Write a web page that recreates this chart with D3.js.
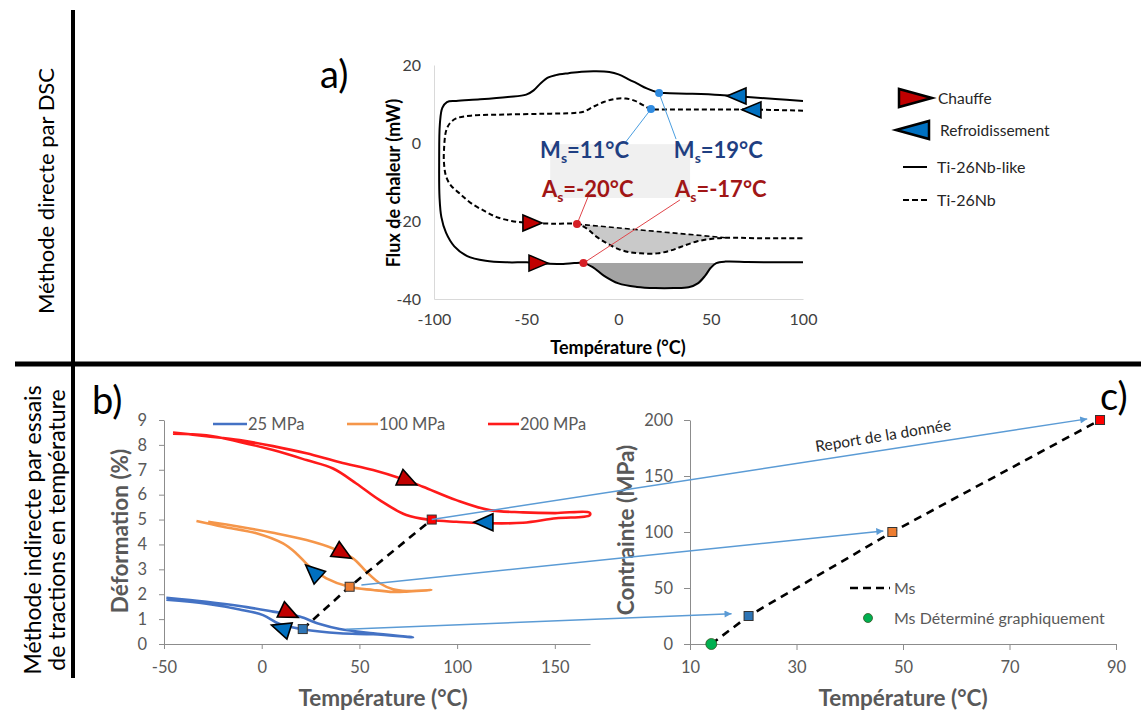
<!DOCTYPE html>
<html><head><meta charset="utf-8">
<script src="https://cdn.jsdelivr.net/npm/d3@7"></script>
<style>body{margin:0;background:#fff}svg{display:block}text{font-family:Lato,'Open Sans',sans-serif}</style>
</head><body><svg id="c" width="1141" height="713"></svg>
<script>
// ---------- DATA ----------
// Panel a) DSC curves [temperature °C, heat flow mW]
const dscSolidCool = [[100,10.8],[85,11.3],[70,11.8],[55,12.3],[40,12.6],[25,12.8],[22,12.9],[15.3,14],[10,15.3],[6,16.2],[0,17.6],[-5,18.2],[-12,18.4],[-20,18.3],[-27,17.9],[-34,17.4],[-38,16.8],[-42,15.4],[-46,13.5],[-50,12.4],[-60,11.8],[-75,11.2],[-88,10.8],[-93,10.5],[-95.5,9],[-96.8,5],[-97.2,-5],[-97,-14]];
const dscSolidHeat = [[-97,-14],[-96,-19],[-93.5,-23],[-89,-26.5],[-82,-29],[-72,-30.2],[-60,-30.6],[-50,-30.6],[-40,-30.9],[-30,-31],[-24,-30.8]];
const dscSolidDip = [[-19,-30.8],[-14,-31.8],[-8,-34],[0,-36],[10,-36.9],[20,-37.2],[30,-37.2],[38,-37],[43,-36],[47,-34],[50,-32],[53,-30.8]];
const dscSolidEnd = [[58,-30.4],[70,-30.5],[85,-30.6],[100,-30.6]];
const dscDashCool = [[100,8.3],[80,8.5],[60,8.6],[40,8.6],[25,8.6],[17.6,8.7],[13,9.8],[9,10.8],[4,11.4],[-2,11.3],[-8,10.5],[-14,9.2],[-19,8],[-24,7.7],[-40,7.5],[-62,7.3],[-80,7],[-88,6.3],[-91.5,5],[-93.5,3],[-94.6,-2]];
const dscDashHeat = [[-94.6,-2],[-94.6,-5],[-93.5,-8.5],[-91,-10.8],[-86,-13],[-80,-15.4],[-72,-17.6],[-66,-19],[-58,-20],[-50,-20.4],[-35,-20.7]];
const dscDashDip = [[-22.5,-20.8],[-17,-22],[-12,-24],[-6,-25.8],[0,-27.2],[6,-28],[12,-28.3],[21,-28.3],[28,-27.6],[34,-26.6],[42,-25.3],[50,-24.6],[58,-24.3]];
const dscDashEnd = [[75,-24.4],[100,-24.4]];
const dscTicksX = [-100,-50,0,50,100];
const dscTicksY = [20,0,-20,-40];
const msPointsA = [[17.6,8.7],[22,12.8]];          // Ms onset points (dashed, solid)
const asPointsA = [[-22.5,-20.8],[-19,-30.8]];     // As onset points (dashed, solid)
const msLabels = ["11°C","19°C"];
const asLabels = ["-20°C","-17°C"];
const coolArrowsA = [[58.8,12.05],[66.9,8.5]];
const heatArrowsA = [[-41.5,-20.5],[-38.2,-30.8]];

// Panel b) strain vs temperature [°C, %]
const seriesB = ["25 MPa","100 MPa","200 MPa"];
const strain25 = [[-48.8,1.86],[-28.3,1.7],[-11.3,1.53],[5.8,1.3],[19.4,1.1],[29.7,0.8],[39.9,0.6],[57,0.43],[77.4,0.27],[57,0.39],[39.9,0.43],[21.1,0.59],[9.2,0.8],[0.7,1.16],[-11.3,1.39],[-28.3,1.62],[-48.8,1.78]];
const strain100 = [[-27.4,4.91],[-11.3,4.71],[5.8,4.47],[22.9,4.18],[36.5,3.84],[46.7,3.44],[53.6,2.9],[60.4,2.44],[67.2,2.2],[74,2.13],[86.8,2.17],[74,2.1],[67.2,2.09],[57,2.17],[44.7,2.3],[33.1,2.64],[24.6,3.1],[17.7,3.64],[10.9,4.04],[-2.7,4.45],[-19.8,4.71],[-33.4,4.94]];
const strain200 = [[-45.4,8.5],[-28.3,8.35],[-11.3,8.19],[5.8,7.95],[22.9,7.66],[40,7.3],[57,6.99],[72,6.63],[82.5,6.32],[99.6,5.78],[116.6,5.38],[133.7,5.29],[150,5.26],[167.8,5.28],[167.8,5.17],[150.7,5.05],[133.7,4.87],[116.6,4.85],[99.6,4.91],[86.8,4.98],[74,5.18],[60.4,5.78],[48.4,6.45],[36.5,7.05],[22.9,7.39],[5.8,7.79],[-11.3,8.12],[-28.3,8.39],[-45.4,8.45]];
const heatArrowsB = [[79.4,6.39],[45.9,3.44],[18.6,1.07]];
const coolArrowsB = [[108.6,4.89],[22.5,3.17],[5,0.76]];
const msTempB = [21,45,87];
const msStrainB = [0.6,2.3,5.0];
const arrowStartB = [[43.3,0.59],[51,2.37],[87,5.0]];

// Panel c) stress vs Ms temperature
const stressC = [25,100,200];
const msTempC = [21,48,87];
const msGraphic = [14,0];
const arrowEndC = [[17.8,27],[46.3,101],[84.6,201]];

// ---------- DRAWING ----------
const svg = d3.select('#c');
const colB = ['#4472c4','#f5964a','#ff1a1a'];
const sqFill = ['#2e75b6','#ed7d31','#ff0000'];
const txtGray = '#595959', axGray = '#8c8c8c';

svg.append('line').attr('x1',73).attr('y1',10).attr('x2',73).attr('y2',678).attr('stroke','#000').attr('stroke-width',4);
svg.append('line').attr('x1',15).attr('y1',364).attr('x2',1141).attr('y2',364).attr('stroke','#000').attr('stroke-width',5);

function vtext(x,y,str,size,weight,fill){
  return svg.append('text').attr('transform',`translate(${x},${y}) rotate(-90)`).attr('text-anchor','middle')
    .attr('dominant-baseline','central').attr('font-size',size).attr('font-weight',weight).attr('fill',fill).text(str);
}
vtext(45,191,'Méthode directe par DSC',22,400,'#000');
vtext(32,530,'Méthode indirecte par essais',23,400,'#000');
vtext(56,530,'de tractions en température',23,400,'#000');

function tri(g,x,y,dir,rot,fill,len,half,sw){
  const p = dir>0 ? `M0,0L${-len},${-half}L${-len},${half}Z` : `M0,0L${len},${-half}L${len},${half}Z`;
  g.append('path').attr('d',p).attr('transform',`translate(${x},${y}) rotate(${rot})`)
    .attr('fill',fill).attr('stroke','#000').attr('stroke-width',sw||1.6).attr('stroke-linejoin','miter');
}
const RED='#c00000', BLUE='#0070c0';

// ---- Panel a ----
const xa = d3.scaleLinear().domain([-100,100]).range([434,803]);
const ya = d3.scaleLinear().domain([-40,20]).range([299,65]);
const ga = svg.append('g');
ga.append('text').attr('x',320).attr('y',88).attr('font-size',38).attr('fill','#000').text('a)');
const axA1 = ga.append('g').attr('transform','translate(0,299)').call(d3.axisBottom(xa).tickValues(dscTicksX).tickSize(0).tickPadding(15).tickFormat(d=>String(d)));
const axA2 = ga.append('g').attr('transform','translate(434,0)').call(d3.axisLeft(ya).tickValues(dscTicksY).tickSize(0).tickPadding(13).tickFormat(d=>String(d)));
[axA1,axA2].forEach(a=>{a.select('.domain').attr('stroke','#d9d9d9');a.selectAll('text').attr('font-size',16).attr('fill','#404040').attr('font-family','Lato');});
const lac = d3.line().x(d=>xa(d[0])).y(d=>ya(d[1])).curve(d3.curveCatmullRom.alpha(0.5));
// shaded peaks
ga.append('path').attr('d',lac(dscSolidDip)+'Z').attr('fill','#a3a3a3');
ga.append('path').attr('d',lac(dscDashDip)+'Z').attr('fill','#c9c9c9');
// gray label box
ga.append('rect').attr('x',xa(-37)).attr('y',ya(-0.3)).attr('width',xa(38.8)-xa(-37)).attr('height',ya(-14.1)-ya(-0.3)).attr('fill','#f0f0f0');
const solidAll = dscSolidCool.concat(dscSolidHeat.slice(1),dscSolidDip,dscSolidEnd);
const dashAll = dscDashCool.concat(dscDashHeat.slice(1),dscDashDip,dscDashEnd);
ga.append('path').attr('d',lac(solidAll)).attr('fill','none').attr('stroke','#000').attr('stroke-width',2);
ga.append('path').attr('d',lac(dashAll)).attr('fill','none').attr('stroke','#000').attr('stroke-width',2).attr('stroke-dasharray','5,3');
// baseline across dashed peak
const dd = [dscDashDip[0],dscDashDip[dscDashDip.length-1]];
ga.append('line').attr('x1',xa(dd[0][0])).attr('y1',ya(dd[0][1])).attr('x2',xa(dd[1][0])).attr('y2',ya(dd[1][1])).attr('stroke','#000').attr('stroke-width',1.6).attr('stroke-dasharray','5,3');
// leader lines + labels
const msText = [[-42.5,-3.85],[30,-3.85]], asText=[[-41.5,-13.8],[30.6,-13.8]];
const msLead = [[3.5,0],[31.2,1]], asLead=[[-16.5,-13.8],[33.3,-14.6]];
msPointsA.forEach((p,i)=>{
  ga.append('line').attr('x1',xa(p[0])).attr('y1',ya(p[1])).attr('x2',xa(msLead[i][0])).attr('y2',ya(msLead[i][1])).attr('stroke','#4a9ee0').attr('stroke-width',1);
  ga.append('circle').attr('cx',xa(p[0])).attr('cy',ya(p[1])).attr('r',4).attr('fill','#2f8be0');
});
asPointsA.forEach((p,i)=>{
  ga.append('line').attr('x1',xa(p[0])).attr('y1',ya(p[1])).attr('x2',xa(asLead[i][0])).attr('y2',ya(asLead[i][1])).attr('stroke','#e0454a').attr('stroke-width',1);
  ga.append('circle').attr('cx',xa(p[0])).attr('cy',ya(p[1])).attr('r',4).attr('fill','#d61f26');
});
function subLabel(x,y,main,val,fill){
  const t = ga.append('text').attr('x',x).attr('y',y).attr('font-size',22).attr('font-weight',700).attr('fill',fill);
  t.append('tspan').text(main);
  t.append('tspan').attr('font-size',14).attr('dy',5).text('s');
  t.append('tspan').attr('dy',-5).text('='+val);
}
msText.forEach((p,i)=>subLabel(xa(p[0]),ya(p[1]),'M',msLabels[i],'#1f3f82'));
asText.forEach((p,i)=>subLabel(xa(p[0]),ya(p[1]),'A',asLabels[i],'#a11616'));
coolArrowsA.forEach(p=>tri(ga,xa(p[0]),ya(p[1]),-1,0,BLUE,19,8));
heatArrowsA.forEach(p=>tri(ga,xa(p[0]),ya(p[1]),1,0,RED,19,8));
ga.append('text').attr('x',618).attr('y',354).attr('text-anchor','middle').attr('font-size',18).attr('font-weight',700).attr('fill','#000').text('Température (°C)');
ga.append('text').attr('transform','translate(393,183) rotate(-90)').attr('text-anchor','middle').attr('dominant-baseline','central').attr('font-size',18).attr('font-weight',700).attr('fill','#000').text('Flux de chaleur (mW)');
// legend a
tri(ga,932,98,1,0,RED,33,9,2.5);
tri(ga,896,130,-1,0,BLUE,33,9,2.5);
ga.append('text').attr('x',938).attr('y',104).attr('font-size',15.5).attr('fill','#262626').text('Chauffe');
ga.append('text').attr('x',940).attr('y',136).attr('font-size',15.5).attr('fill','#262626').text('Refroidissement');
ga.append('line').attr('x1',903).attr('x2',927).attr('y1',167).attr('y2',167).attr('stroke','#000').attr('stroke-width',2);
ga.append('line').attr('x1',903).attr('x2',927).attr('y1',200).attr('y2',200).attr('stroke','#000').attr('stroke-width',2).attr('stroke-dasharray','6,3');
ga.append('text').attr('x',937).attr('y',173).attr('font-size',16).attr('fill','#262626').text('Ti-26Nb-like');
ga.append('text').attr('x',937).attr('y',206).attr('font-size',16).attr('fill','#262626').text('Ti-26Nb');

// ---- Panel b ----
const xb = d3.scaleLinear().domain([-50,168]).range([164,590]);
const yb = d3.scaleLinear().domain([0,9]).range([644,420]);
const gb = svg.append('g');
gb.append('text').attr('x',92).attr('y',414).attr('font-size',38).attr('fill','#000').text('b)');
const axB1 = gb.append('g').attr('transform','translate(0,644)').call(d3.axisBottom(xb).tickValues([-50,0,50,100,150]).tickSize(5).tickSizeOuter(0).tickPadding(12).tickFormat(d=>String(d)));
const axB2 = gb.append('g').attr('transform','translate(164,0)').call(d3.axisLeft(yb).tickValues(d3.range(0,10)).tickSize(5).tickSizeOuter(0).tickPadding(12));
[axB1,axB2].forEach(a=>{a.select('.domain').attr('stroke',axGray);a.selectAll('line').attr('stroke',axGray);a.selectAll('text').attr('font-size',16.5).attr('fill',txtGray).attr('font-family','Lato');});
const lb = d3.line().x(d=>xb(d[0])).y(d=>yb(d[1])).curve(d3.curveCatmullRom.alpha(0.5));
[strain25,strain100,strain200].forEach((s,i)=>gb.append('path').attr('d',lb(s)).attr('fill','none').attr('stroke',colB[i]).attr('stroke-width',2.6));
// legend b
const legX = [[213,247],[347,378],[488,519]];
seriesB.forEach((s,i)=>{
  gb.append('line').attr('x1',legX[i][0]).attr('x2',legX[i][1]).attr('y1',424).attr('y2',424).attr('stroke',colB[i]).attr('stroke-width',2.6);
  gb.append('text').attr('x',legX[i][1]+1).attr('y',430).attr('font-size',16.5).attr('fill',txtGray).text(s);
});
// Ms dashed line in b
gb.append('path').attr('d',d3.line()(msTempB.map((t,i)=>[xb(t),yb(msStrainB[i])]))).attr('fill','none').attr('stroke','#000').attr('stroke-width',2.6).attr('stroke-dasharray','8,6');
const heatRotB=[24,30,25], coolRotB=[0,42,18];
heatArrowsB.forEach((p,i)=>tri(gb,xb(p[0]),yb(p[1]),1,heatRotB[i],RED,19,8.5));
coolArrowsB.forEach((p,i)=>tri(gb,xb(p[0]),yb(p[1]),-1,coolRotB[i],BLUE,19,8.5));
gb.append('text').attr('x',383).attr('y',706).attr('text-anchor','middle').attr('font-size',22.5).attr('font-weight',700).attr('fill',txtGray).text('Température (°C)');
gb.append('text').attr('transform','translate(119,531) rotate(-90)').attr('text-anchor','middle').attr('dominant-baseline','central').attr('font-size',22.5).attr('font-weight',700).attr('fill',txtGray).text('Déformation (%)');

// ---- Panel c ----
const xc = d3.scaleLinear().domain([10,90]).range([690,1116]);
const yc = d3.scaleLinear().domain([0,200]).range([644,420]);
const gc = svg.append('g');
gc.append('text').attr('x',1100).attr('y',410).attr('font-size',38).attr('fill','#000').text('c)');
const axC1 = gc.append('g').attr('transform','translate(0,644)').call(d3.axisBottom(xc).tickValues([10,30,50,70,90]).tickSize(6).tickSizeOuter(0).tickPadding(11));
const axC2 = gc.append('g').attr('transform','translate(690,0)').call(d3.axisLeft(yc).tickValues([0,50,100,150,200]).tickSize(6).tickSizeOuter(0).tickPadding(11));
[axC1,axC2].forEach(a=>{a.select('.domain').attr('stroke',axGray);a.selectAll('line').attr('stroke',axGray);a.selectAll('text').attr('font-size',16.5).attr('fill',txtGray).attr('font-family','Lato');});
const msLineC = [msGraphic].concat(msTempC.map((t,i)=>[t,stressC[i]]));
gc.append('path').attr('d',d3.line()(msLineC.map(d=>[xc(d[0]),yc(d[1])]))).attr('fill','none').attr('stroke','#000').attr('stroke-width',2.6).attr('stroke-dasharray','8,6');
gc.append('text').attr('x',903).attr('y',706).attr('text-anchor','middle').attr('font-size',22.5).attr('font-weight',700).attr('fill',txtGray).text('Température (°C)');
gc.append('text').attr('transform','translate(625,530) rotate(-90)').attr('text-anchor','middle').attr('dominant-baseline','central').attr('font-size',22.5).attr('font-weight',700).attr('fill',txtGray).text('Contrainte (MPa)');
// legend c
gc.append('line').attr('x1',850).attr('x2',890).attr('y1',588).attr('y2',588).attr('stroke','#000').attr('stroke-width',2.6).attr('stroke-dasharray','8,5');
gc.append('text').attr('x',894).attr('y',594).attr('font-size',16).attr('fill',txtGray).text('Ms');
gc.append('circle').attr('cx',868).attr('cy',618).attr('r',4.5).attr('fill','#00b050').attr('stroke','#375623').attr('stroke-width',0.8);
gc.append('text').attr('x',894).attr('y',624).attr('font-size',16).attr('fill',txtGray).text('Ms Déterminé graphiquement');

// connecting arrows
svg.append('defs').append('marker').attr('id','ah').attr('viewBox','0 0 10 10').attr('refX',10).attr('refY',5)
  .attr('markerWidth',9).attr('markerHeight',7).attr('markerUnits','userSpaceOnUse').attr('orient','auto')
  .append('path').attr('d','M0,0L10,5L0,10Z').attr('fill','#5b9bd5');
arrowStartB.forEach((s,i)=>{
  svg.append('line').attr('x1',xb(s[0])).attr('y1',yb(s[1])).attr('x2',xc(arrowEndC[i][0])).attr('y2',yc(arrowEndC[i][1]))
    .attr('stroke','#5b9bd5').attr('stroke-width',1.5).attr('marker-end','url(#ah)');
});
svg.append('text').attr('transform','translate(884,441) rotate(-9.3)').attr('text-anchor','middle').attr('font-size',15.5).attr('fill','#262626').text('Report de la donnée');

// squares & markers (on top)
msTempB.forEach((t,i)=>gb.append('rect').attr('x',xb(t)-4.5).attr('y',yb(msStrainB[i])-4.5).attr('width',9).attr('height',9).attr('fill',sqFill[i]).attr('stroke','#333').attr('stroke-width',1));
msTempC.forEach((t,i)=>gc.append('rect').attr('x',xc(t)-4.5).attr('y',yc(stressC[i])-4.5).attr('width',9).attr('height',9).attr('fill',sqFill[i]).attr('stroke','#333').attr('stroke-width',1));
gc.append('circle').attr('cx',xc(msGraphic[0])).attr('cy',yc(msGraphic[1])).attr('r',5.5).attr('fill','#00b050').attr('stroke','#375623').attr('stroke-width',0.8);
</script></body></html>
